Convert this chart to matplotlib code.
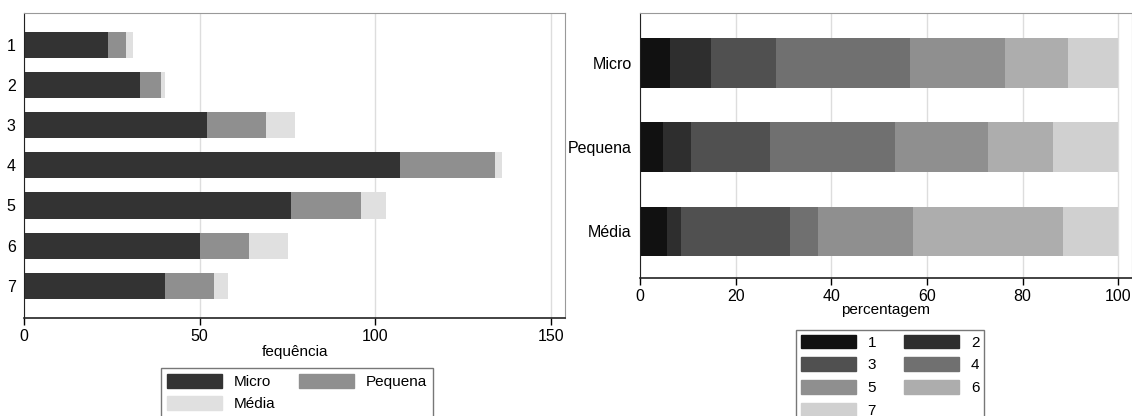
import numpy as np
import matplotlib.pyplot as plt
from matplotlib.patches import Patch

plt.rcParams['font.family'] = ['Liberation Sans', 'DejaVu Sans']

niveis = ['1', '2', '3', '4', '5', '6', '7']
micro = [24, 33, 52, 107, 76, 50, 40]
pequena = [5, 6, 17, 27, 20, 14, 14]
media = [2, 1, 8, 2, 7, 11, 4]

portes = ['Micro', 'Pequena', 'Média']
cores_porte = ['#333333', '#8f8f8f', '#e0e0e0']
cores_nivel = ['#111111', '#2e2e2e', '#505050', '#707070', '#8f8f8f', '#adadad', '#d0d0d0']

fig = plt.figure(figsize=(11.32, 4.16), dpi=100)

# grafico da esquerda: frequencias empilhadas
ax1 = fig.add_axes([0.0212, 0.236, 0.478, 0.733])
y = np.arange(1, 8)
esq = np.zeros(7)
for vals, cor, nome in zip([micro, pequena, media], cores_porte, portes):
    ax1.barh(y, vals, left=esq, height=0.65, color=cor, label=nome, zorder=2)
    esq += np.array(vals)
ax1.set_xlim(0, 154)
ax1.set_ylim(7.8, 0.2)
ax1.set_yticks(y)
ax1.set_yticklabels(niveis)
ax1.set_xticks([0, 50, 100, 150])
ax1.set_xlabel('fequência', fontsize=11, labelpad=1)

# grafico da direita: percentagens por porte
ax2 = fig.add_axes([0.5654, 0.332, 0.4346, 0.637])
tabela = np.array([micro, pequena, media], dtype=float)
perc = tabela / tabela.sum(axis=1, keepdims=True) * 100
yp = np.arange(3)
esq = np.zeros(3)
for i in range(7):
    ax2.barh(yp, perc[:, i], left=esq, height=0.59, color=cores_nivel[i],
             label=niveis[i], zorder=2)
    esq += perc[:, i]
ax2.set_xlim(0, 102.9)
ax2.set_ylim(2.55, -0.59)
ax2.set_yticks(yp)
ax2.set_yticklabels(portes)
ax2.set_xticks([0, 20, 40, 60, 80, 100])
ax2.set_xlabel('percentagem', fontsize=11, labelpad=-1)

for ax in (ax1, ax2):
    ax.grid(True, axis='x', color='#dddddd', linewidth=1, zorder=0)
    ax.set_axisbelow(True)
    ax.tick_params(axis='x', length=5, width=1, labelsize=11.5, pad=3)
    ax.tick_params(axis='y', length=0, labelsize=11.5, pad=6)
    ax.spines['top'].set_color('#999999')
    ax.spines['right'].set_color('#999999')
    ax.spines['left'].set_color('#222222')
    ax.spines['bottom'].set_color('#222222')
    ax.spines['bottom'].set_linewidth(1.2)

# legendas preenchidas por linha (matplotlib preenche por coluna)
ordem1 = [0, 2, 1]
h1 = [Patch(color=cores_porte[i]) for i in ordem1]
fig.legend(h1, [portes[i] for i in ordem1], loc='upper center',
           bbox_to_anchor=(297 / 1132, 1 - 368 / 416),
           ncol=2, fontsize=11, frameon=True, fancybox=False, edgecolor='#555555',
           handlelength=3.6, handleheight=1.0, labelspacing=0.45, columnspacing=1.5,
           borderpad=0.4, handletextpad=0.8, borderaxespad=0)

ordem2 = [0, 2, 4, 6, 1, 3, 5]
h2 = [Patch(color=cores_nivel[i]) for i in ordem2]
fig.legend(h2, [niveis[i] for i in ordem2], loc='upper center',
           bbox_to_anchor=(890 / 1132, 1 - 330 / 416),
           ncol=2, fontsize=11, frameon=True, fancybox=False, edgecolor='#555555',
           handlelength=3.6, handleheight=1.0, labelspacing=0.5, columnspacing=1.8,
           borderpad=0.3, handletextpad=0.8, borderaxespad=0)

fig.savefig('out.png', dpi=100)
